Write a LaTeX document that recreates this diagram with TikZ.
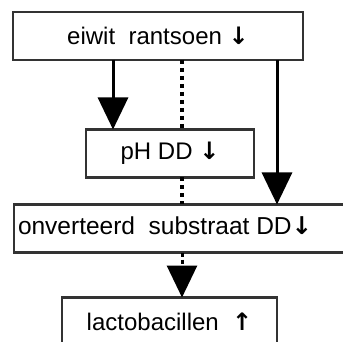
\documentclass[tikz,border=0pt]{standalone}
\usepackage{fontspec}
\setmainfont{Liberation Sans}
\newfontfamily\pijlfont{DejaVu Sans}
\usepackage{tikz}
\usetikzlibrary{arrows.meta}

\newcommand{\neer}{{\pijlfont\bfseries ↓}}
\newcommand{\op}{{\pijlfont\bfseries ↑}}

\begin{document}
\begin{tikzpicture}[x=1pt,y=-1pt]
\tikzstyle{every node}+=[inner sep=0pt,outer sep=0pt]
\tikzstyle{vak}=[draw=black!80,line width=2.5pt,minimum height=48pt,font=\fontsize{24}{28}\selectfont]
\tikzstyle{pijl}=[line width=3pt,-{Triangle[length=32pt,width=30pt]}]
\tikzstyle{stippel}=[line width=4pt,dash pattern=on 4pt off 4pt]
\useasboundingbox (0,0) rectangle (343,342);
\node [vak,minimum width=290pt] (eiwit) at (158,36) {eiwit\ \ rantsoen \neer};
\node [vak,minimum width=168pt] (ph) at (170,153.5) {pH DD \neer};
\node [vak,minimum width=332pt] (substraat) at (180,228.5) {};
\node [anchor=west,font=\fontsize{24.5}{28}\selectfont] (substraattekst) at (18,226) {onverteerd\ \ substraat DD\neer};
\node [vak,minimum width=215pt] (lacto) at (169.5,321.5) {lactobacillen \ \op};
\draw [pijl] (eiwit.south -| 113,0) -- (ph.north -| 113,0);
\draw [stippel] (eiwit.south -| 182,0) -- (ph.north -| 182,0);
\draw [stippel] (ph.south -| 182,0) -- (substraat.north -| 182,0);
\draw [pijl] (eiwit.south -| 277,0) -- (substraat.north -| 277,0);
\draw [pijl,dash pattern=on 4pt off 3pt] (substraat.south -| 182,0) -- (lacto.north -| 182,0);
\end{tikzpicture}
\end{document}
